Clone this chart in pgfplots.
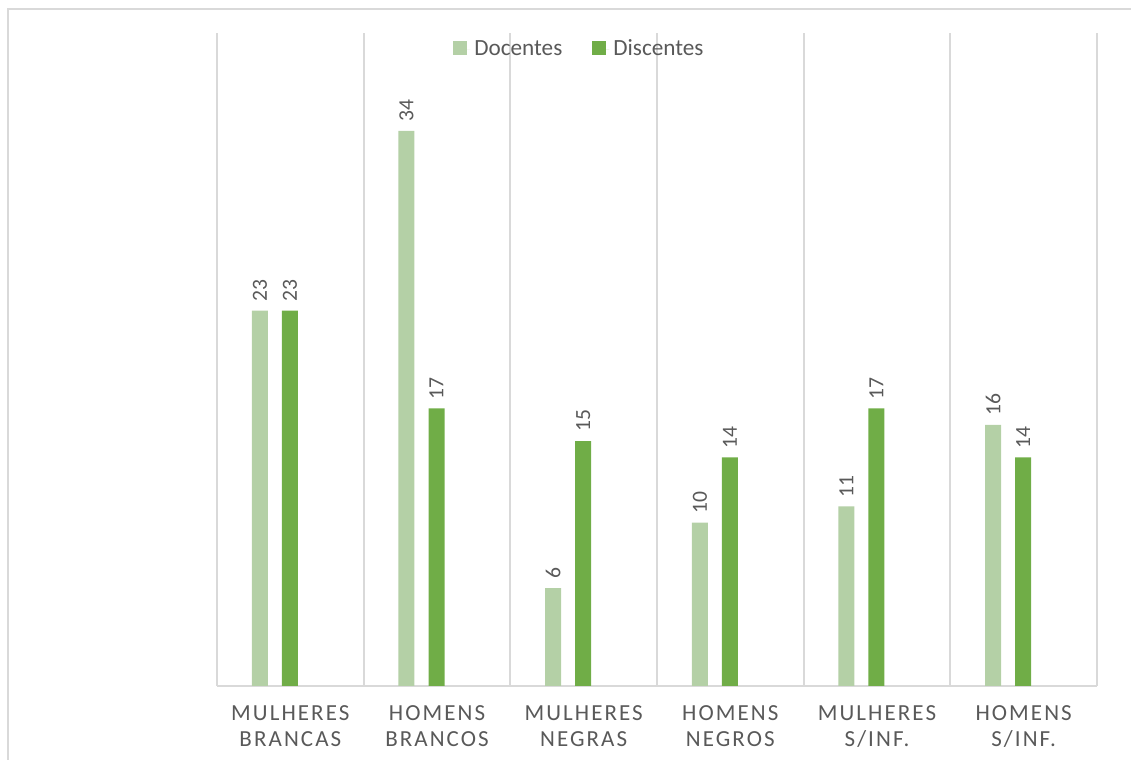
\documentclass[border=0pt]{standalone}
\usepackage{fontspec}
\setmainfont{Carlito}
\newfontfamily\spaced{Carlito}[LetterSpace=9]
\usepackage{pgfplots}
\pgfplotsset{compat=1.18}
\definecolor{lightg}{HTML}{B4D0A6}
\definecolor{darkg}{HTML}{70AD47}
\definecolor{gridc}{HTML}{D9D9D9}
\definecolor{txt}{HTML}{595959}
\begin{document}
\begin{tikzpicture}[x=1pt,y=1pt]
\useasboundingbox (0,0) rectangle (565.5,380);
\draw[gridc, line width=1pt] (4,0) -- (4,375.5) -- (565.5,375.5);
\begin{axis}[
  at={(108.5pt,37pt)}, anchor=south west,
  scale only axis, width=440pt, height=326.5pt,
  xmin=-0.5, xmax=5.5, ymin=0, ymax=40,
  axis x line=bottom, axis y line=none,
  x axis line style={draw=gridc, line width=1pt, -},
  xtick={0,1,2,3,4,5},
  xticklabels={{MULHERES\\BRANCAS},{HOMENS\\BRANCOS},{MULHERES\\NEGRAS},{HOMENS\\NEGROS},{MULHERES\\S/INF.},{HOMENS\\S/INF.}},
  xticklabel style={align=center, font=\spaced\fontsize{11.5}{13}\selectfont, text=txt, yshift=-6.5pt},
  minor xtick={-0.5,0.5,1.5,2.5,3.5,4.5,5.5},
  xminorgrids=true,
  minor grid style={draw=gridc, line width=1pt},
  major tick length=0pt, minor tick length=0pt,
  ytick=\empty,
  ybar, bar width=8pt,
  clip=false,
  /pgf/number format/assume math mode=true,
  nodes near coords,
  every node near coord/.append style={rotate=90, anchor=west, font=\fontsize{10.8}{12}\selectfont, text=txt, inner sep=0pt, inner xsep=4.5pt},
  legend style={at={(0.413,0.975)}, anchor=center, draw=none, fill=none, font=\fontsize{11.6}{13}\selectfont, text=txt, legend columns=-1,
    /tikz/every even column/.append style={column sep=13pt}},
  legend image code/.code={\fill[#1] (0pt,-2.7pt) rectangle (7pt,4.3pt); \path (0pt,0pt) -- (8.5pt,0pt);},
]
\addplot[fill=lightg, draw=none, bar shift=-15.25pt] coordinates {(0,23) (1,34) (2,6) (3,10) (4,11) (5,16)};
\addplot[fill=darkg, draw=none, bar shift=-0.25pt] coordinates {(0,23) (1,17) (2,15) (3,14) (4,17) (5,14)};
\legend{Docentes, Discentes}
\end{axis}
\end{tikzpicture}
\end{document}
